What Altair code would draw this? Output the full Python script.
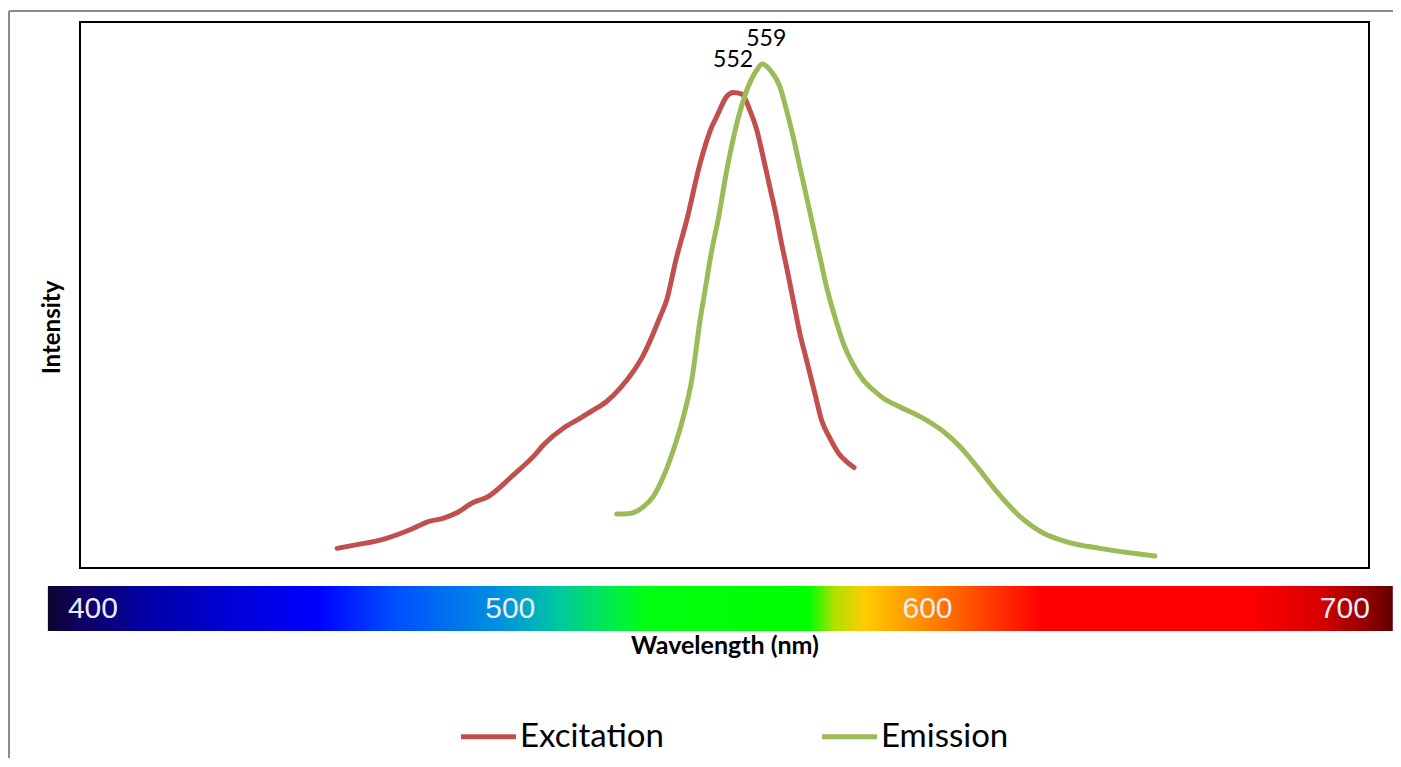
import altair as alt
import pandas as pd

# ---- data ----
series_names = ["Excitation", "Emission"]
series_colors = ["#C0504D", "#9BBB59"]

exc_nm = [458.5, 465.6, 468.8, 476.0, 480.4, 483.9, 487.2, 491.1, 494.3, 500.7,
          505.5, 508.3, 512.7, 516.7, 519.9, 523.1, 526.3, 529.5, 531.9, 534.3,
          535.9, 537.5, 539.7, 542.3, 545.5, 548.3, 549.5, 551.9, 553.4, 555.5,
          557.4, 559.1, 560.6, 562.2, 563.8, 565.0, 566.2, 567.8, 569.4, 571.0,
          573.0, 574.6, 576.6, 579.0, 580.6, 582.4]
exc_int = [0.036, 0.046, 0.051, 0.070, 0.085, 0.091, 0.101, 0.120, 0.129, 0.170,
           0.204, 0.228, 0.256, 0.274, 0.289, 0.305, 0.329, 0.360, 0.390, 0.430,
           0.460, 0.491, 0.564, 0.637, 0.741, 0.808, 0.827, 0.864, 0.871, 0.868,
           0.839, 0.802, 0.753, 0.698, 0.643, 0.595, 0.552, 0.491, 0.430, 0.381,
           0.320, 0.271, 0.238, 0.207, 0.195, 0.184]

em_nm = [525.5, 528.7, 531.9, 534.3, 536.7, 539.1, 541.5, 543.5, 545.5, 546.7,
         548.3, 549.8, 551.9, 554.3, 556.7, 559.1, 560.4, 562.6, 564.6, 566.2,
         567.8, 569.4, 571.0, 572.6, 574.2, 575.8, 577.8, 579.8, 581.8, 584.6,
         587.0, 589.4, 593.4, 599.0, 603.8, 607.8, 611.8, 616.6, 622.2, 627.7,
         633.3, 641.3, 649.3, 654.5]
em_int = [0.099, 0.100, 0.112, 0.131, 0.167, 0.216, 0.277, 0.344, 0.454, 0.509,
          0.582, 0.637, 0.729, 0.814, 0.875, 0.912, 0.923, 0.909, 0.882, 0.839,
          0.790, 0.735, 0.680, 0.625, 0.570, 0.515, 0.460, 0.412, 0.378, 0.344,
          0.326, 0.311, 0.295, 0.274, 0.250, 0.222, 0.186, 0.140, 0.094, 0.064,
          0.048, 0.036, 0.027, 0.022]

peak_labels = ["552", "559"]
tick_nm = [400, 500, 600, 700]
tick_text = ["400", "500", "600", "700"]
spectrum_start = [389.2]
spectrum_end = [711.5]

spectrum_stops = [
    (0.000, "#0d0530"), (0.024, "#110060"), (0.076, "#0000a8"),
    (0.150, "#0000e0"), (0.200, "#0000ff"), (0.260, "#0050ff"),
    (0.335, "#0090e0"), (0.380, "#00c8a0"), (0.424, "#00f040"),
    (0.446, "#00ff10"), (0.566, "#00ff00"), (0.585, "#b0e000"),
    (0.607, "#ffcc00"), (0.648, "#ff9000"), (0.692, "#ff4800"),
    (0.738, "#ff0000"), (0.893, "#ff0000"), (0.945, "#d80000"),
    (0.982, "#900000"), (1.000, "#600000"),
]

# ---- tables ----
df = pd.concat([
    pd.DataFrame({"nm": exc_nm, "intensity": exc_int, "series": series_names[0],
                  "idx": range(len(exc_nm))}),
    pd.DataFrame({"nm": em_nm, "intensity": em_int, "series": series_names[1],
                  "idx": range(len(em_nm))}),
], ignore_index=True)

peaks = []
for name, lab in zip(series_names, peak_labels):
    sub = df[df.series == name]
    row = sub.loc[sub.intensity.idxmax()]
    peaks.append({"nm": row.nm, "intensity": row.intensity, "label": lab})
peak_exc = pd.DataFrame([peaks[0]])
peak_em = pd.DataFrame([peaks[1]])

spec_df = pd.DataFrame({"nm": spectrum_start, "nm2": spectrum_end})
tick_df = pd.DataFrame({"nm": tick_nm, "label": tick_text})

FONT = "Lato"

x_scale = alt.Scale(domain=[396.9, 705.8], nice=False, zero=False)
y_scale = alt.Scale(domain=[0, 1], nice=False, zero=True)

x_axis = alt.Axis(title="Wavelength (nm)", labels=False, ticks=False, domain=False,
                  grid=False, titleFont=FONT, titleFontWeight="bold", titleFontSize=25,
                  titleColor="#000000", titlePadding=65)
y_axis = alt.Axis(title="Intensity", labels=False, ticks=False, domain=False,
                  grid=False, titleFont=FONT, titleFontWeight="bold", titleFontSize=24,
                  titleColor="#000000", titleX=-21, titleY=305, titleAngle=270,
                  titleAlign="center", titleBaseline="alphabetic")

xenc = alt.X("nm:Q", scale=x_scale, axis=x_axis, title="Wavelength (nm)")
yenc = alt.Y("intensity:Q", scale=y_scale, axis=y_axis, title="Intensity")

lines = alt.Chart(df).mark_line(strokeWidth=5, strokeCap="round",
                                strokeJoin="round", interpolate="monotone").encode(
    x=xenc,
    y=yenc,
    color=alt.Color("series:N",
                    scale=alt.Scale(domain=series_names, range=series_colors),
                    sort=series_names,
                    legend=alt.Legend(title=None, orient="none", legendX=378, legendY=684,
                                      direction="horizontal", symbolType="stroke",
                                      symbolSize=3030, symbolStrokeWidth=5,
                                      labelFont=FONT, labelFontSize=33,
                                      labelColor="#000000", labelOffset=1,
                                      columnPadding=147, padding=0)),
    order="idx:Q",
)

lab_exc = alt.Chart(peak_exc).mark_text(font=FONT, fontSize=23, color="#000000",
                                        baseline="alphabetic", align="center",
                                        dy=-25, dx=0).encode(
    x=xenc, y=yenc, text="label:N")
lab_em = alt.Chart(peak_em).mark_text(font=FONT, fontSize=23, color="#000000",
                                      baseline="alphabetic", align="center",
                                      dy=-18, dx=4).encode(
    x=xenc, y=yenc, text="label:N")

gradient = alt.LinearGradient(
    gradient="linear", x1=0, x2=1, y1=0, y2=0,
    stops=[alt.GradientStop(offset=o, color=c) for o, c in spectrum_stops])

spectrum = alt.Chart(spec_df).mark_rect(color=gradient, fill=gradient).encode(
    x=xenc, x2="nm2:Q", y=alt.value(564), y2=alt.value(609))

ticks = alt.Chart(tick_df).mark_text(font="Liberation Sans", fontSize=30,
                                     color="#ececf6", baseline="middle",
                                     align="center").encode(
    x=xenc, y=alt.value(587), text="label:N")

border_top = alt.Chart(tick_df).mark_rule(color="#8c8c8c", strokeWidth=2).encode(
    x=alt.value(-71), x2=alt.value(1340), y=alt.value(-11))
border_left = alt.Chart(tick_df).mark_rule(color="#8c8c8c", strokeWidth=2).encode(
    x=alt.value(-71), y=alt.value(-11), y2=alt.value(760))

chart = alt.layer(
    border_top, border_left, spectrum, ticks, lines, lab_exc, lab_em
).properties(
    width=1289, height=546,
    autosize=alt.AutoSizeParams(type="none"),
    padding={"left": 72, "top": 14, "right": 24, "bottom": 190},
    background="#ffffff",
).configure_view(
    stroke="#000000", strokeWidth=2
)

chart.save("out.html", embed_options={"renderer": "svg", "actions": False})
